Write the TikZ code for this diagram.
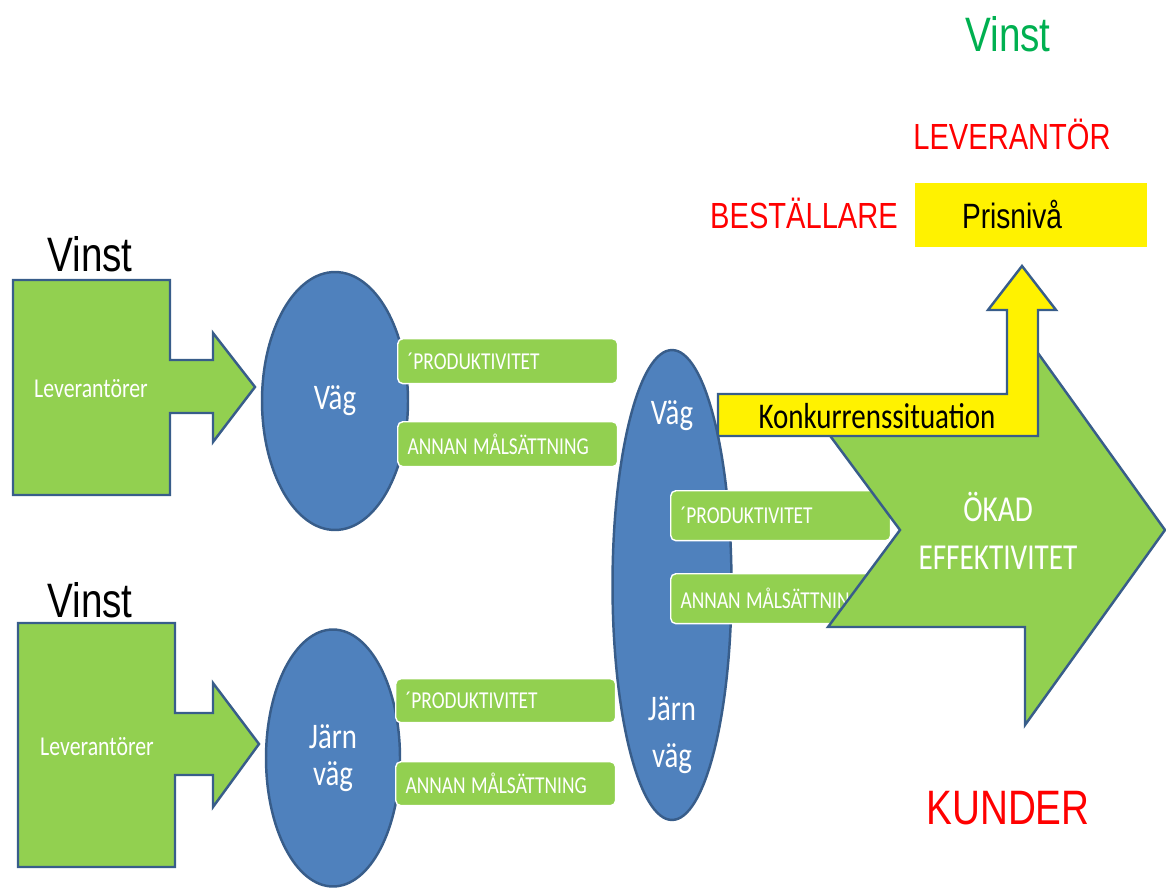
\documentclass[tikz,border=0pt]{standalone}
\usepackage{fontspec}
\newfontfamily\arialn[FakeStretch=0.8]{Liberation Sans}
\newfontfamily\calib[FakeStretch=0.8]{Carlito}
\definecolor{leafgreen}{HTML}{92D050}
\definecolor{edgeblue}{HTML}{385D8A}
\definecolor{roadblue}{HTML}{4F81BD}
\definecolor{vinstgreen}{HTML}{00B050}
\usetikzlibrary{shapes.geometric}

\begin{document}
\begin{tikzpicture}[x=0.02cm, y=-0.02cm]
    \tikzset{
        shape edge/.style={draw=edgeblue, line width=1.4pt, line join=miter},
        supplier/.style={shape edge, fill=leafgreen},
        road/.style={ellipse, shape edge, fill=roadblue, text=white, inner sep=0pt,
            font=\calib\fontsize{20.5}{24}\selectfont, align=center},
        goalbox/.style={rectangle, rounded corners=3pt, draw=white, line width=0.8pt,
            fill=leafgreen, text=white, font=\calib\fontsize{13.8}{16}\selectfont,
            anchor=north west, align=left, inner xsep=0.2cm, inner ysep=0pt,
            text width=4.0cm, minimum height=#1},
        bigword/.style={font=\arialn\fontsize{27.5}{32}\selectfont, inner sep=0pt},
        redword/.style={font=\arialn\fontsize{20.7}{24}\selectfont, text=red, inner sep=0pt},
        whiteword/.style={text=white, inner sep=0pt},
    }

    \useasboundingbox (0,0) rectangle (1166,888);

    \draw[supplier] (13,280) -- (170,280) -- (170,360) -- (213,360) -- (213,333)
        -- (255,387) -- (213,442) -- (213,413) -- (170,413) -- (170,495) -- (13,495) -- cycle;
    \draw[supplier] (18,623) -- (175,623) -- (175,713) -- (213,713) -- (213,683)
        -- (259,744) -- (213,807) -- (213,775) -- (175,775) -- (175,867) -- (18,867) -- cycle;
    \node[whiteword, font=\calib\fontsize{15.5}{18}\selectfont] (levA) at (91,389) {Leverantörer};
    \node[whiteword, font=\calib\fontsize{15.5}{18}\selectfont] (levB) at (97,747) {Leverantörer};
    \node[bigword] (vinstA) at (90,254) {Vinst};
    \node[bigword] (vinstB) at (90,600) {Vinst};

    \node[road, minimum width=2.92cm, minimum height=5.16cm] (vagA) at (335,401) {Väg};
    \node[road, minimum width=2.68cm, minimum height=5.14cm] (jarnA) at (333,758) {Järn\\[-3pt]väg};
    \node[road, minimum width=2.38cm, minimum height=9.4cm] (bothB) at (672,585) {};
    \node[whiteword, font=\calib\fontsize{20.5}{24}\selectfont] (vagB) at (672,416) {Väg};
    \node[whiteword, font=\calib\fontsize{20.5}{24}\selectfont, align=center] (jarnB)
        at (672,735) {Järn\\[3pt]väg};

    \foreach \x/\y/\h/\n in {397/338/0.9/A, 395/678/0.88/B, 670/490/1.0/C} {
        \node[goalbox=\h cm] (prod\n) at (\x,\y) {´PRODUKTIVITET};
        \node[goalbox=\h cm] (mal\n) at (\x,\y+83) {ANNAN\hspace{3pt}MÅLSÄTTNING};
    }

    \draw[supplier] (828,433) -- (1025,433) -- (1025,335) -- (1165,530) -- (1025,725)
        -- (1025,627) -- (828,627) -- (900,530) -- cycle;
    \node[whiteword, font=\calib\fontsize{20.8}{27}\selectfont, align=center] (okad)
        at (998,531) {ÖKAD\\EFFEKTIVITET};

    \draw[shape edge, fill=yellow] (718,394) -- (1007,394) -- (1007,310) -- (988,310)
        -- (1022,266) -- (1056,310) -- (1038,310) -- (1038,436) -- (718,436) -- cycle;
    \node[font=\calib\fontsize{20.6}{24}\selectfont, inner sep=0pt] (konk) at (877,416) {Konkurrenssituation};

    \node[fill=yellow, minimum width=4.64cm, minimum height=1.28cm, inner xsep=0.94cm,
        text width=2.76cm, align=left, font=\arialn\fontsize{20}{24}\selectfont] (pris)
        at (1031,215) {Prisnivå};
    \node[redword] (best) at (804,213) {BESTÄLLARE};
    \node[redword] (levt) at (1012,134) {LEVERANTÖR};
    \node[bigword, text=vinstgreen] (vinstC) at (1008,34) {Vinst};
    \node[bigword, text=red] (kund) at (1008,808) {KUNDER};
\end{tikzpicture}
\end{document}
